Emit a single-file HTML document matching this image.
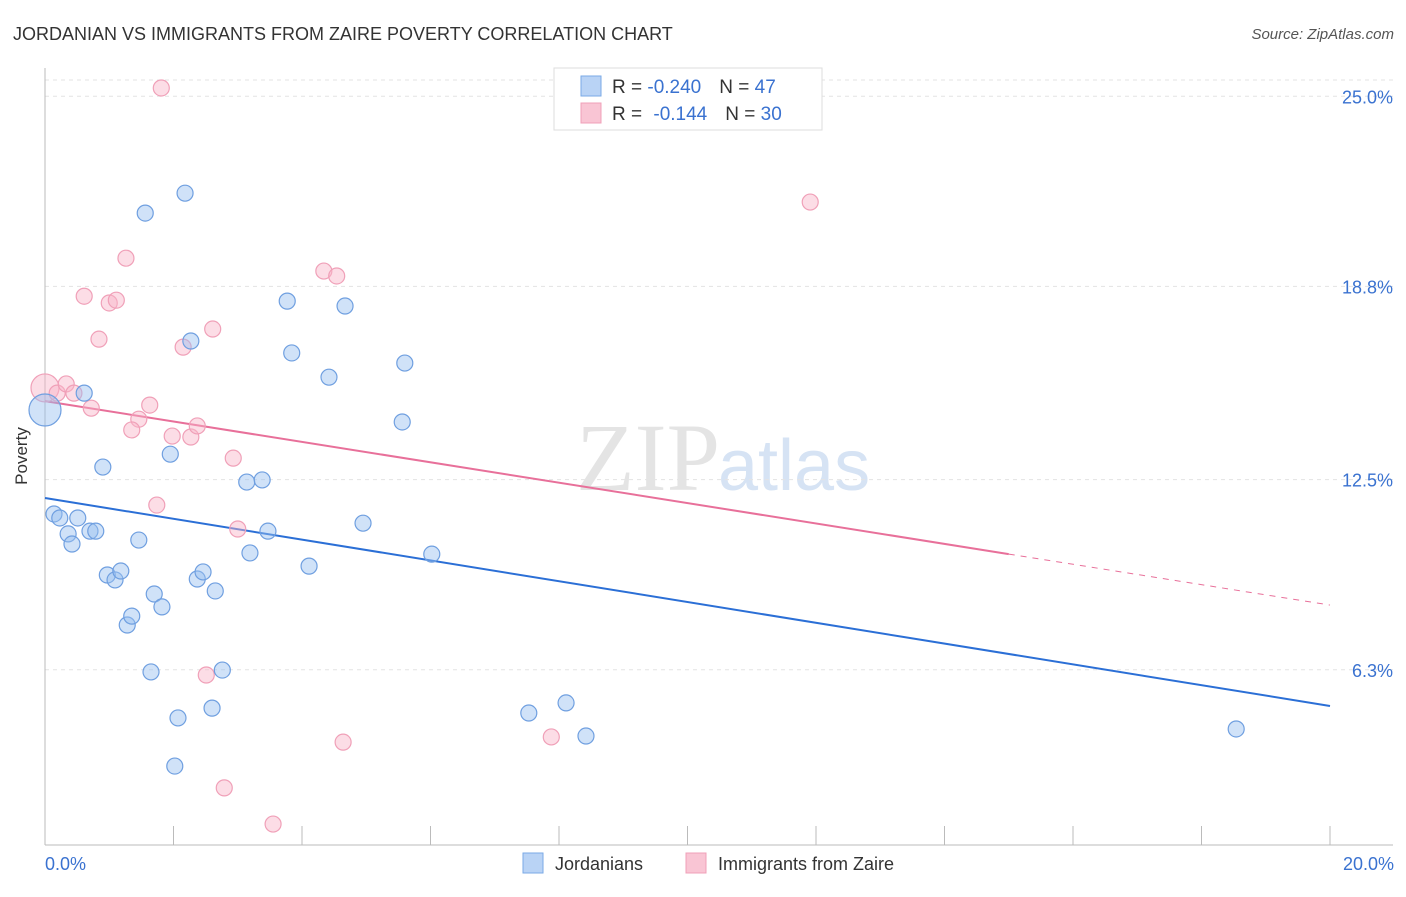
<!DOCTYPE html>
<html><head><meta charset="utf-8"><style>
body{margin:0;background:#fff;font-family:"Liberation Sans",sans-serif;}
</style></head><body>
<svg width="1406" height="892" xmlns="http://www.w3.org/2000/svg" font-family="Liberation Sans, sans-serif">
<text x="13" y="40" font-size="18" fill="#333">JORDANIAN VS IMMIGRANTS FROM ZAIRE POVERTY CORRELATION CHART</text>
<text x="1394" y="39" font-size="15" fill="#555" font-style="italic" text-anchor="end">Source: ZipAtlas.com</text>
<text x="720" y="490" font-size="96" fill="#e4e4e4" text-anchor="end" font-family="Liberation Serif, serif">ZIP</text>
<text x="718" y="490" font-size="72" fill="#d6e3f4">atlas</text>
<g id="grid"></g>
<line x1="45" y1="68" x2="45" y2="845" stroke="#bbb"/>
<line x1="45" y1="845" x2="1393" y2="845" stroke="#bbb"/>
<g id="xticks"></g>
<text x="27" y="456" font-size="17" fill="#333" text-anchor="middle" transform="rotate(-90 27 456)">Poverty</text>
<text x="45" y="870" font-size="18" fill="#3a72d0">0.0%</text>
<text x="1394" y="870" font-size="18" fill="#3a72d0" text-anchor="end">20.0%</text>
<g id="lines"></g>
<g id="points"></g>
<g>
<rect x="554" y="68" width="268" height="62" fill="#fff" stroke="#ddd"/>
<rect x="581" y="76" width="20" height="20" fill="#b9d3f5" stroke="#7aaae6"/>
<rect x="581" y="103" width="20" height="20" fill="#f9c5d4" stroke="#f0a0b8"/>
<text x="612" y="93" font-size="19" fill="#333">R = <tspan fill="#3a72d0">-0.240</tspan><tspan dx="18">N = </tspan><tspan fill="#3a72d0">47</tspan></text>
<text x="612" y="120" font-size="19" fill="#333">R = <tspan dx="6" fill="#3a72d0">-0.144</tspan><tspan dx="18">N = </tspan><tspan fill="#3a72d0">30</tspan></text>
</g>
<g><rect x="523" y="853" width="20" height="20" fill="#b9d3f5" stroke="#7aaae6"/><text x="555" y="870" font-size="18" fill="#333">Jordanians</text></g>
<g><rect x="686" y="853" width="20" height="20" fill="#f9c5d4" stroke="#f0a0b8"/><text x="718" y="870" font-size="18" fill="#333">Immigrants from Zaire</text></g>
</svg>
<script>
const yTicks=[25.0,18.8,12.5,6.3];
const yTickLabels=["25.0%","18.8%","12.5%","6.3%"];
const blueX=[0.14,0.23,0.36,0.42,0.51,0.70,0.79,0.61,0.90,0.97,1.09,1.18,1.28,1.35,1.46,1.56,1.70,1.82,1.95,2.07,2.02,2.18,2.27,2.37,2.46,2.60,2.65,2.76,1.65,3.14,3.19,3.38,3.47,3.77,3.84,4.11,4.42,4.67,4.95,5.56,5.60,6.02,7.53,8.11,8.42,18.54,0.0];
const blueY=[11.38,11.25,10.73,10.40,11.25,10.82,10.82,15.32,12.91,9.39,9.23,9.52,7.76,8.05,10.53,21.19,8.77,8.35,13.33,4.73,3.16,21.84,17.02,9.26,9.49,5.05,8.87,6.29,6.23,12.42,10.11,12.49,10.82,18.32,16.63,9.68,15.84,18.16,11.08,14.38,16.30,10.07,4.89,5.22,4.14,4.37,14.77];
const pinkX=[1.81,1.26,0.61,1.00,1.11,0.84,0,0.19,0.33,0.45,0.72,1.63,1.46,1.35,1.98,2.15,2.27,2.37,2.61,2.93,1.74,3.00,2.51,2.79,3.55,4.34,4.54,4.64,7.88,11.91];
const pinkY=[25.27,19.72,18.48,18.26,18.35,17.08,15.49,15.32,15.62,15.32,14.83,14.93,14.47,14.12,13.92,16.82,13.89,14.25,17.41,13.20,11.67,10.89,6.13,2.45,1.27,19.30,19.14,3.94,4.11,21.55];
const blueTrend=[11.90,5.12];
const pinkTrend=[15.06,8.41];
const pinkSolidEnd=15.0;
const NS="http://www.w3.org/2000/svg";
const sx=v=>45+v/20*1285, sy=v=>863-v*30.67;
function mk(t,a,p){const e=document.createElementNS(NS,t);for(const k in a)e.setAttribute(k,a[k]);p.appendChild(e);return e;}
const grid=document.getElementById('grid');
mk('line',{x1:45,y1:80,x2:1393,y2:80,stroke:'#e3e3e3','stroke-dasharray':'4 4'},grid);
yTicks.forEach((t,i)=>{
 const l=mk('line',{x1:45,y1:sy(t),x2:1393,y2:sy(t),stroke:'#e3e3e3','stroke-dasharray':'4 4'},grid);
 
 
 const tx=mk('text',{x:1393,y:sy(t)+7,'font-size':18,fill:'#3a72d0','text-anchor':'end'},grid);
 tx.textContent=yTickLabels[i];
 
 
});
const xt=document.getElementById('xticks');
for(let i=1;i<=10;i++){const x=sx(i*2);const l=mk('line',{x1:x,y1:826,x2:x,y2:845,stroke:'#bbb'},xt);
 
 }
const lg=document.getElementById('lines');
const bl=mk('line',{x1:sx(0),y1:sy(blueTrend[0]),x2:sx(20),y2:sy(blueTrend[1]),stroke:'#2b6fd6','stroke-width':2},lg);


const pm=pinkTrend[0]+(pinkTrend[1]-pinkTrend[0])*pinkSolidEnd/20;
const pl=mk('line',{x1:sx(0),y1:sy(pinkTrend[0]),x2:sx(pinkSolidEnd),y2:sy(pm),stroke:'#e8709a','stroke-width':2},lg);


const pd=mk('line',{x1:sx(pinkSolidEnd),y1:sy(pm),x2:sx(20),y2:sy(pinkTrend[1]),stroke:'#e8709a','stroke-width':1,'stroke-dasharray':'6 6'},lg);


const pg=document.getElementById('points');
pinkX.forEach((x,i)=>{const c=mk('circle',{cx:sx(x),cy:sy(pinkY[i]),r:x===0?14:8,fill:'rgba(248,180,200,0.45)',stroke:'#f0a0b8','stroke-width':1.2},pg);
 
 });
blueX.forEach((x,i)=>{const c=mk('circle',{cx:sx(x),cy:sy(blueY[i]),r:x===0?16:8,fill:'rgba(150,190,240,0.45)',stroke:'#6f9fe0','stroke-width':1.2},pg);
 
 });
</script>
</body></html>
